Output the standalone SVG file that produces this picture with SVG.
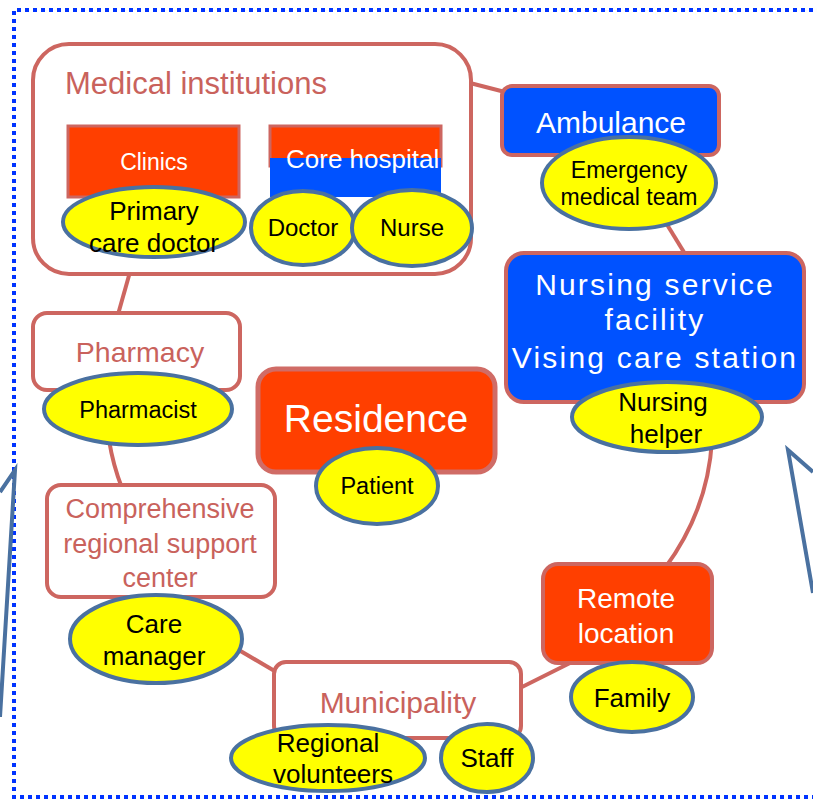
<svg xmlns="http://www.w3.org/2000/svg" width="813" height="800" viewBox="0 0 813 800">
<style>
text{font-family:"Liberation Sans",Arial,sans-serif}
.box{stroke:#cd6660;stroke-width:4}
.wht{fill:#fff}
.red{fill:#ff3f00}
.blu{fill:#0052ff}
.ell{fill:#ffff00;stroke:#4a71a0;stroke-width:4}
.lbl{fill:#000;text-anchor:middle}
.wt{fill:#fff;text-anchor:middle}
.st{fill:#c9625c;text-anchor:middle}
.con{fill:none;stroke:#cd6660;stroke-width:4}
.frame{fill:none;stroke:#0033ff;stroke-width:4;stroke-dasharray:4 4}
.deco{fill:none;stroke:#4a71a0;stroke-width:4;stroke-linejoin:miter}
</style>
<rect width="813" height="800" fill="#fff"/>
<g id="frame">
<path class="frame" d="M813 10 L14 10 L14 797 L813 797"/>
</g>
<g id="decorations">
<polyline class="deco" points="0,492 15,470 0,717"/>
<polyline class="deco" points="813,472 788,450 813,593"/>
</g>
<g id="connectors">
<line class="con" x1="470" y1="83" x2="505" y2="92"/>
<line class="con" x1="655" y1="205" x2="690" y2="262"/>
<line class="con" x1="130" y1="272" x2="117" y2="318"/>
<path class="con" d="M109 440 Q113 465 122 488"/>
<path class="con" d="M712 440 Q708 510 665 568"/>
<line class="con" x1="518" y1="689" x2="572" y2="662"/>
<line class="con" x1="232" y1="646" x2="278" y2="673"/>
</g>
<g id="medical-institutions">
<rect class="box wht" x="33" y="44" width="438" height="230" rx="36"/>
<text x="65" y="94" font-size="31" fill="#c9625c">Medical institutions</text>
</g>
<g id="clinics">
<rect class="red" x="68" y="126" width="171" height="71" stroke="#cd6660" stroke-width="3"/>
<text class="wt" x="154" y="170" font-size="23">Clinics</text>
</g>
<g id="core-hospital">
<rect class="red" x="270" y="126" width="171" height="40" stroke="#cd6660" stroke-width="3"/>
<rect class="blu" x="270" y="158" width="171" height="39"/>
<text x="286" y="168" font-size="26" fill="#fff">Core hospital</text>
</g>
<g id="primary-care-doctor">
<ellipse class="ell" cx="154" cy="222" rx="91" ry="35"/>
<text class="lbl" x="154" y="220" font-size="26">Primary</text>
<text class="lbl" x="154" y="252" font-size="26">care doctor</text>
</g>
<g id="doctor">
<ellipse class="ell" cx="303" cy="228" rx="52" ry="37"/>
<text class="lbl" x="303" y="236" font-size="24">Doctor</text>
</g>
<g id="nurse">
<ellipse class="ell" cx="412" cy="228" rx="60" ry="38"/>
<text class="lbl" x="412" y="236" font-size="24">Nurse</text>
</g>
<g id="ambulance">
<rect class="box blu" x="502" y="86" width="217" height="69" rx="10"/>
<text class="wt" x="611" y="133" font-size="30">Ambulance</text>
</g>
<g id="emergency-medical-team">
<ellipse class="ell" cx="629" cy="183" rx="87" ry="46"/>
<text class="lbl" x="629" y="178" font-size="23">Emergency</text>
<text class="lbl" x="629" y="205" font-size="23">medical team</text>
</g>
<g id="nursing-service-facility">
<rect class="box blu" x="506" y="253" width="298" height="149" rx="18" stroke-width="5"/>
<text class="wt" x="655" y="295" font-size="30" letter-spacing="2.2">Nursing service</text>
<text class="wt" x="655" y="330" font-size="30" letter-spacing="2.2">facility</text>
<text class="wt" x="655" y="368" font-size="30" letter-spacing="2.2">Vising care station</text>
</g>
<g id="nursing-helper">
<ellipse class="ell" cx="667" cy="417" rx="95" ry="35"/>
<text class="lbl" x="663" y="411" font-size="26">Nursing</text>
<text class="lbl" x="666" y="443" font-size="26">helper</text>
</g>
<g id="pharmacy">
<rect class="box wht" x="33" y="313" width="207" height="77" rx="14"/>
<text class="st" x="140" y="362" font-size="28.5">Pharmacy</text>
</g>
<g id="pharmacist">
<ellipse class="ell" cx="138" cy="409" rx="94" ry="36"/>
<text class="lbl" x="138" y="418" font-size="23.5">Pharmacist</text>
</g>
<g id="residence">
<rect class="red" x="258" y="369" width="237" height="103" rx="18" stroke="#d06c66" stroke-width="5"/>
<text class="wt" x="376" y="432" font-size="39">Residence</text>
</g>
<g id="patient">
<ellipse class="ell" cx="377" cy="486" rx="61" ry="38"/>
<text class="lbl" x="377" y="494" font-size="23.5">Patient</text>
</g>
<g id="comprehensive-regional-support-center">
<rect class="box wht" x="47" y="485" width="228" height="112" rx="14"/>
<text class="st" x="160" y="518" font-size="27">Comprehensive</text>
<text class="st" x="160" y="553" font-size="27">regional support</text>
<text class="st" x="160" y="587" font-size="27">center</text>
</g>
<g id="care-manager">
<ellipse class="ell" cx="156" cy="639" rx="86" ry="44"/>
<text class="lbl" x="154" y="633" font-size="26">Care</text>
<text class="lbl" x="154" y="665" font-size="26">manager</text>
</g>
<g id="remote-location">
<rect class="box red" x="543" y="564" width="169" height="99" rx="15"/>
<text class="wt" x="626" y="608" font-size="28">Remote</text>
<text class="wt" x="626" y="643" font-size="28">location</text>
</g>
<g id="family">
<ellipse class="ell" cx="632" cy="697" rx="61" ry="35"/>
<text class="lbl" x="632" y="707" font-size="26">Family</text>
</g>
<g id="municipality">
<rect class="box wht" x="274" y="662" width="247" height="76" rx="12"/>
<text class="st" x="398" y="713" font-size="30">Municipality</text>
</g>
<g id="regional-volunteers">
<ellipse class="ell" cx="328" cy="758" rx="97" ry="33"/>
<text class="lbl" x="328" y="752" font-size="26">Regional</text>
<text class="lbl" x="333" y="783" font-size="26">volunteers</text>
</g>
<g id="staff">
<ellipse class="ell" cx="487" cy="758" rx="46" ry="34"/>
<text class="lbl" x="487" y="767" font-size="26">Staff</text>
</g>
</svg>
